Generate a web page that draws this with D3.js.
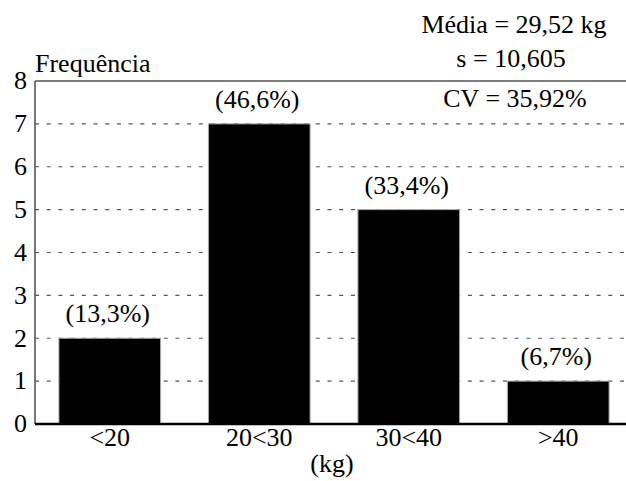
<!DOCTYPE html>
<html>
<head>
<meta charset="utf-8">
<script src="https://cdn.jsdelivr.net/npm/d3@7"></script>
</head>
<body style="margin:0; background:#fff">
<div id="chart"></div>
<script>
// data
var classes = ["<20", "20<30", "30<40", ">40"];
var freqs = [2, 7, 5, 1];
var percents = ["(13,3%)", "(46,6%)", "(33,4%)", "(6,7%)"];
var yTicks = [0, 1, 2, 3, 4, 5, 6, 7, 8];
var stats = ["Média = 29,52 kg", "s = 10,605", "CV = 35,92%"];

var width = 626, height = 481;
var font = "'Liberation Serif', 'Times New Roman', serif";
var fs = "26px";

var svg = d3.select("#chart").append("svg")
    .attr("width", width)
    .attr("height", height)
    .style("font-family", font);

var x = d3.scaleBand()
    .domain(classes)
    .range([35, 633])
    .paddingInner(0.32)
    .paddingOuter(0.16);

var y = d3.scaleLinear()
    .domain([0, 8])
    .range([424, 81]);

// dashed grid lines (1..7)
svg.selectAll(".grid")
    .data(yTicks.filter(function (d) { return d > 0 && d < 8; }))
    .enter().append("line")
    .attr("class", "grid")
    .attr("x1", 35)
    .attr("x2", width)
    .attr("y1", function (d) { return y(d); })
    .attr("y2", function (d) { return y(d); })
    .style("stroke", "#555")
    .style("stroke-width", 1.2)
    .style("stroke-dasharray", "4,7.7");

// top frame line
svg.append("line")
    .attr("x1", 35).attr("x2", width)
    .attr("y1", y(8)).attr("y2", y(8))
    .style("stroke", "#555")
    .style("stroke-width", 1.6);

// bars
svg.selectAll(".bar")
    .data(freqs)
    .enter().append("rect")
    .attr("class", "bar")
    .attr("x", function (d, i) { return x(classes[i]); })
    .attr("y", function (d) { return y(d); })
    .attr("width", x.bandwidth())
    .attr("height", function (d) { return y(0) - y(d); })
    .style("fill", "#000")
    .style("stroke", "#aaa")
    .style("stroke-width", 1);

// percentage labels
svg.selectAll(".pct")
    .data(freqs)
    .enter().append("text")
    .attr("class", "pct")
    .attr("text-anchor", "middle")
    .attr("x", function (d, i) { return x(classes[i]) + x.bandwidth() / 2 - 2; })
    .attr("y", function (d) { return y(d) - 16; })
    .style("font-family", font)
    .style("font-size", fs)
    .text(function (d, i) { return percents[i]; });

// y axis
var yAxis = svg.append("g")
    .attr("transform", "translate(35,0)")
    .call(d3.axisLeft(y).tickValues(yTicks).tickSize(0).tickPadding(8));
yAxis.attr("font-family", null);
yAxis.select(".domain").remove();
yAxis.selectAll("text")
    .attr("dy", "0.3em")
    .style("font-family", font)
    .style("font-size", fs);

svg.append("line")
    .attr("x1", 35).attr("x2", 35)
    .attr("y1", y(8)).attr("y2", y(0))
    .style("stroke", "#555")
    .style("stroke-width", 1.6);

// x axis
var xAxis = svg.append("g")
    .attr("transform", "translate(0," + y(0) + ")")
    .call(d3.axisBottom(x).tickSize(0).tickPadding(4));
xAxis.attr("font-family", null);
xAxis.select(".domain").remove();
xAxis.selectAll("text")
    .style("font-family", font)
    .style("font-size", fs);

svg.append("line")
    .attr("x1", 35).attr("x2", width)
    .attr("y1", y(0)).attr("y2", y(0))
    .style("stroke", "#000")
    .style("stroke-width", 2.4);

// axis titles
svg.append("text")
    .attr("x", 35)
    .attr("y", 72)
    .style("font-family", font)
    .style("font-size", fs)
    .text("Frequência");

svg.append("text")
    .attr("x", 332)
    .attr("y", 472)
    .attr("text-anchor", "middle")
    .style("font-family", font)
    .style("font-size", fs)
    .text("(kg)");

// statistics
var statX = [514, 511, 515];
var statY = [33, 67, 107];
svg.selectAll(".stat")
    .data(stats)
    .enter().append("text")
    .attr("class", "stat")
    .attr("text-anchor", "middle")
    .attr("x", function (d, i) { return statX[i]; })
    .attr("y", function (d, i) { return statY[i]; })
    .style("font-family", font)
    .style("font-size", fs)
    .text(function (d) { return d; });
</script>
</body>
</html>
